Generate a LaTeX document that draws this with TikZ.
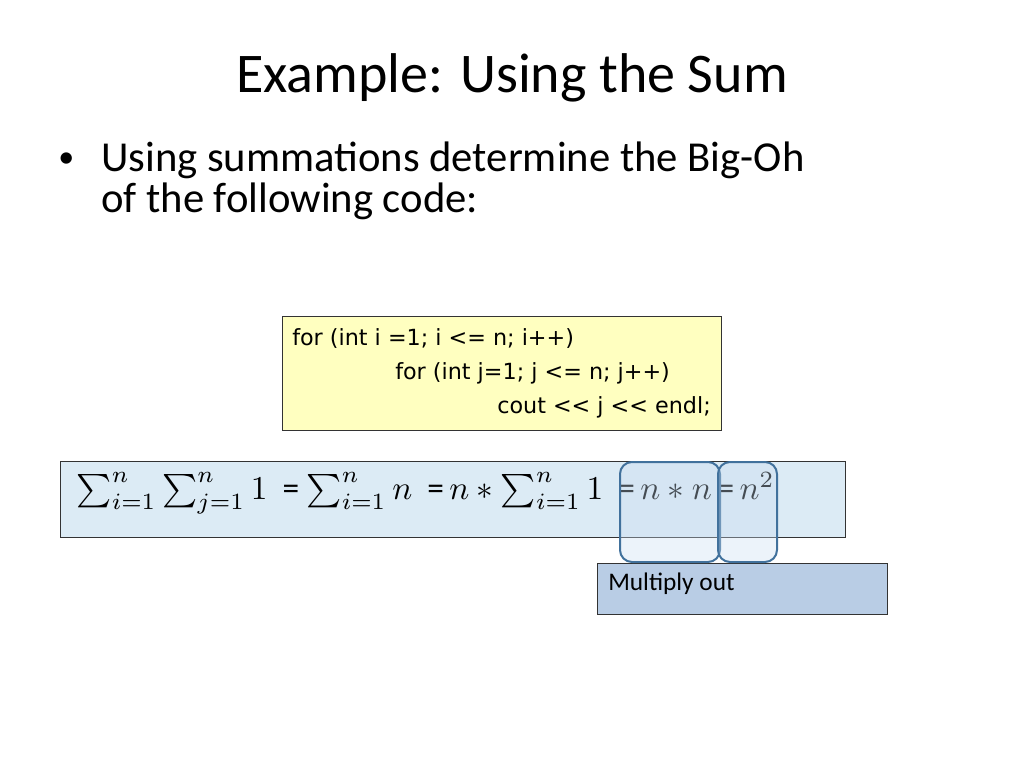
\documentclass[tikz,border=0pt]{standalone}
\usepackage{fontspec}
\setmainfont{Carlito}
\newfontfamily\codefont{DejaVu Sans}
\begin{document}
\begin{tikzpicture}[x=0.75pt,y=-0.75pt,
  box/.style={draw=black!80, line width=0.6pt},
  pill/.style={draw={rgb,255:red,65;green,113;blue,156}, line width=1.5pt, rounded corners=9pt, fill={rgb,255:red,200;green,220;blue,240}, fill opacity=0.35},
  txt/.style={anchor=west, inner sep=0pt}]
\useasboundingbox (0,0) rectangle (1024,768);
\node[inner sep=0pt, font=\fontsize{42}{48}\selectfont] (title) at (512,78) {Example: Using the Sum};
\node[txt, font=\fontsize{24}{30}\selectfont] (bul) at (58,160) {•};
\node[txt, font=\fontsize{32}{38}\selectfont] (l1) at (101,160) {Using summations determine the Big-Oh};
\node[txt, font=\fontsize{32}{38}\selectfont] (l2) at (101,201) {of the following code:};
\draw[box, fill={rgb,255:red,255;green,255;blue,192}] (282,316) rectangle (721,430);
\node[txt, font=\codefont\fontsize{16.7}{20}\selectfont] (c1) at (292,339) {for (int i =1; i <= n; i++)};
\node[txt, font=\codefont\fontsize{16.7}{20}\selectfont] (c2) at (395,373) {for (int j=1; j <= n; j++)};
\node[txt, font=\codefont\fontsize{16.7}{20}\selectfont] (c3) at (497,407) {cout << j << endl;};
\draw[box, fill={rgb,255:red,220;green,235;blue,245}] (60,461) rectangle (845,537);
\node[txt, scale=2.5] (m) at (76,493) {$\sum_{i=1}^{n}\sum_{j=1}^{n}1$\ \ =\ $\sum_{i=1}^{n}n$\ \ =$\,n*\sum_{i=1}^{n}1$\ \ =$\,n*n\,$=$\,n^2$};
\draw[box, fill={rgb,255:red,185;green,205;blue,229}] (597,563) rectangle (887,614);
\node[txt, font=\fontsize{19}{22}\selectfont] (mo) at (608,584) {Multiply out};
\draw[pill] (620,462) rectangle (720,562);
\draw[pill] (718,462) rectangle (777,562);
\end{tikzpicture}
\end{document}
